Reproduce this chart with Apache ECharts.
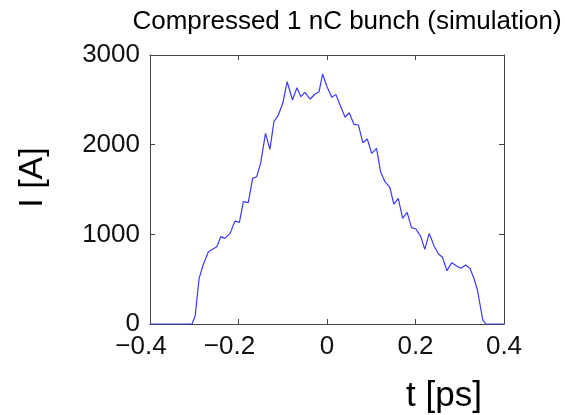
<!DOCTYPE html>
<html>
<head>
<meta charset="utf-8">
<script src="https://cdn.jsdelivr.net/npm/echarts@6/dist/echarts.min.js"></script>
<style>html,body{margin:0;padding:0;background:#fff}#c{width:565px;height:415px}</style>
</head>
<body>
<div id="c"></div>
<script>
var titleText = 'Compressed 1 nC bunch (simulation)';
var xName = 't [ps]';
var yName = 'I [A]';
var xTicks = [-0.4, -0.2, 0, 0.2, 0.4];
var yTicks = [0, 1000, 2000, 3000];
var tValues = [-0.4, -0.305, -0.298, -0.289, -0.280, -0.268, -0.249, -0.240, -0.231, -0.219,
  -0.208, -0.198, -0.189, -0.178, -0.168, -0.159, -0.150, -0.139, -0.129, -0.120,
  -0.110, -0.100, -0.090, -0.078, -0.068, -0.059, -0.050, -0.038, -0.027, -0.018,
  -0.010, 0.000, 0.011, 0.020, 0.031, 0.041, 0.050, 0.061, 0.071, 0.081,
  0.091, 0.101, 0.112, 0.121, 0.131, 0.142, 0.151, 0.161, 0.171, 0.181,
  0.191, 0.201, 0.212, 0.221, 0.231, 0.242, 0.252, 0.261, 0.271, 0.282,
  0.293, 0.303, 0.313, 0.323, 0.332, 0.340, 0.346, 0.352, 0.359, 0.4];
var currentValues = [0, 0, 89, 509, 658, 806, 862, 974, 955, 1011,
  1148, 1134, 1364, 1353, 1624, 1642, 1791, 2126, 1948, 2256,
  2330, 2461, 2702, 2498, 2635, 2535, 2584, 2509, 2565, 2590,
  2788, 2646, 2528, 2561, 2423, 2305, 2356, 2227, 2219, 2022,
  2063, 1903, 1959, 1698, 1587, 1524, 1338, 1401, 1179, 1245,
  1074, 1059, 974, 833, 1011, 870, 781, 744, 594, 684,
  647, 621, 658, 621, 510, 379, 212, 45, 0, 0];

var FONT = '"Liberation Sans", Arial, Helvetica, sans-serif';
var frameColor = '#444';
var data = tValues.map(function (t, i) { return [t, currentValues[i]]; });

function fmtX(v) {
  var s = (Math.round(v * 10) / 10).toString();
  if (v < 0) return '{neg|\u2212' + s.slice(1) + '}';
  return s;
}
function fmtY(v) { return String(Math.round(v)); }

var chart = echarts.init(document.getElementById('c'), null, {renderer: 'canvas'});
function axisBase(isX) {
  return {
    type: 'value',
    min: isX ? xTicks[0] : yTicks[0],
    max: isX ? xTicks[xTicks.length - 1] : yTicks[yTicks.length - 1],
    interval: isX ? 0.2 : 1000,
    axisLine: {show: true, onZero: false, lineStyle: {color: frameColor, width: 1}},
    axisTick: {show: true, inside: true, length: 5, lineStyle: {color: frameColor}},
    splitLine: {show: false}
  };
}
chart.setOption({
  animation: false,
  backgroundColor: '#fff',
  title: {
    text: titleText, left: 342, top: 4, textAlign: 'center',
    textStyle: {fontFamily: FONT, fontSize: 26, fontWeight: 'normal', color: '#000'}
  },
  grid: {left: 150, right: 61, top: 55, bottom: 91, containLabel: false, outerBoundsMode: 'none'},
  xAxis: [
    Object.assign(axisBase(true), {
      position: 'bottom',
      name: xName, nameLocation: 'middle', nameGap: 55,
      nameTextStyle: {fontFamily: FONT, fontSize: 35, color: '#000', padding: [0, 0, 0, 234]},
      axisLabel: {show: true, fontFamily: FONT, fontSize: 26, color: '#111', margin: 10,
        formatter: fmtX,
        rich: {neg: {fontFamily: FONT, fontSize: 26, color: '#111', padding: [0, 18, 0, 0]}}}
    }),
    Object.assign(axisBase(true), {position: 'top', axisLabel: {show: false}})
  ],
  yAxis: [
    Object.assign(axisBase(false), {
      position: 'left',
      name: yName, nameLocation: 'middle', nameGap: 100,
      nameTextStyle: {fontFamily: FONT, fontSize: 34, color: '#000', padding: [0, 0, 0, 24]},
      axisLabel: {show: true, fontFamily: FONT, fontSize: 26, color: '#111', margin: 10, formatter: fmtY}
    }),
    Object.assign(axisBase(false), {position: 'right', axisLabel: {show: false}})
  ],
  series: [{
    type: 'line', data: data, xAxisIndex: 0, yAxisIndex: 0,
    showSymbol: false, symbol: 'none',
    lineStyle: {color: '#3a3aff', width: 1.2},
    silent: true
  }]
});
</script>
</body>
</html>
